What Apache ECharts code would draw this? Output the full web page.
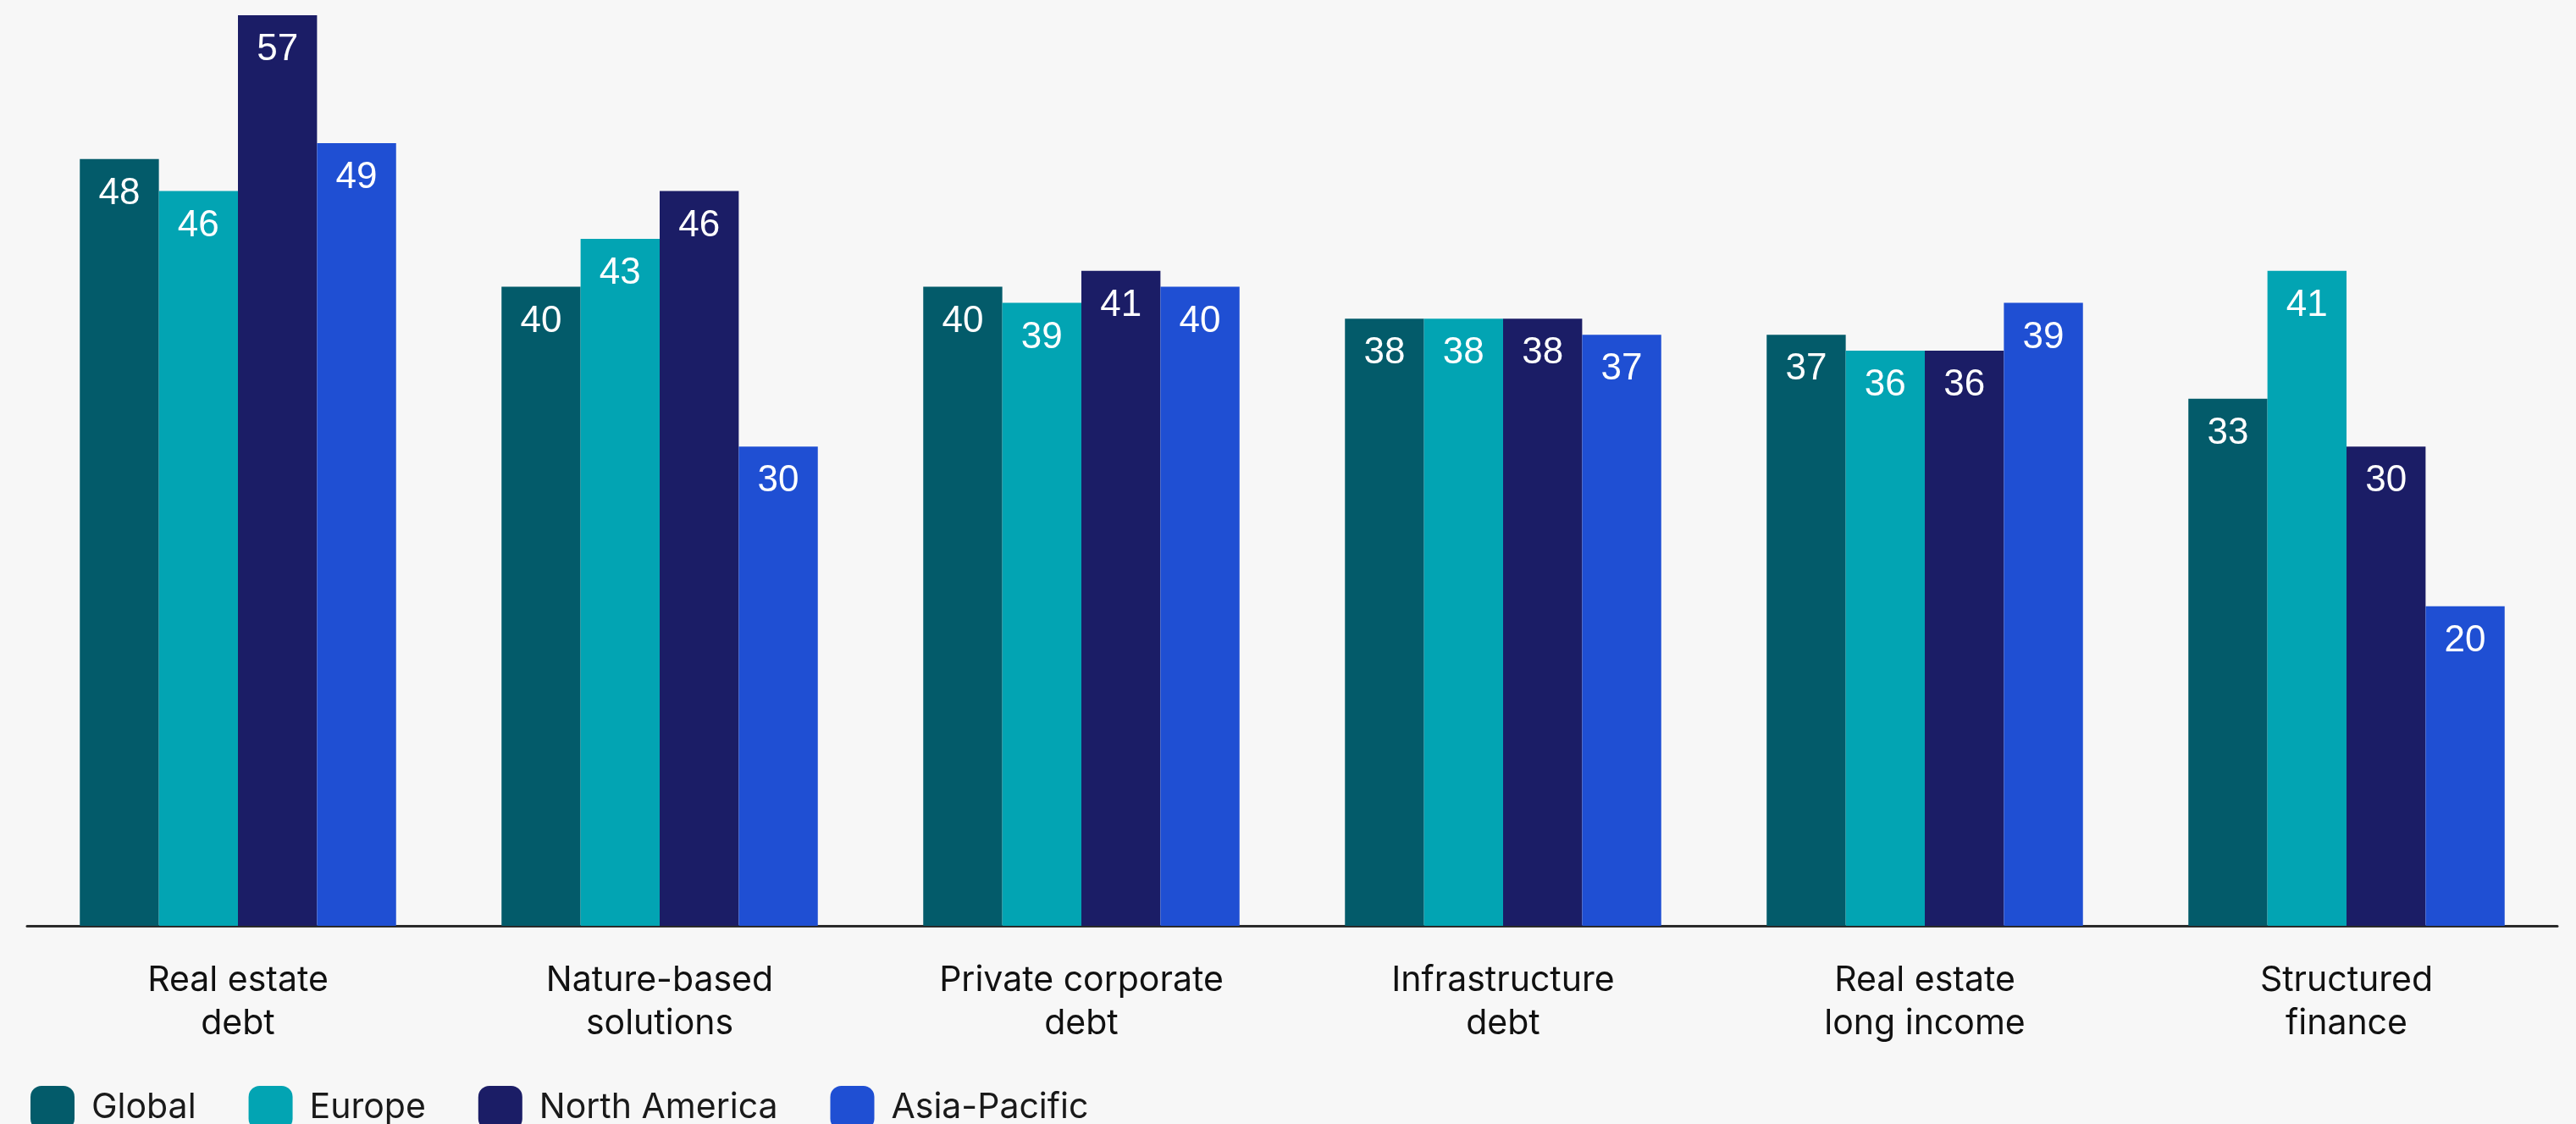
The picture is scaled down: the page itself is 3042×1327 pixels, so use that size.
<!DOCTYPE html>
<html>
<head>
<meta charset="utf-8">
<script src="https://cdn.jsdelivr.net/npm/echarts@6/dist/echarts.min.js"></script>
<style>
html,body{margin:0;padding:0;background:#f7f7f7;}
#chart{width:3042px;height:1327px;}
</style>
</head>
<body>
<div id="chart"></div>
<script>
const categories = ["Real estate\ndebt", "Nature-based\nsolutions", "Private corporate\ndebt", "Infrastructure\ndebt", "Real estate\nlong income", "Structured\nfinance"];
const seriesNames = ["Global", "Europe", "North America", "Asia-Pacific"];
const globalVals = [48, 40, 40, 38, 37, 33];
const europeVals = [46, 43, 39, 38, 36, 41];
const northAmericaVals = [57, 46, 41, 38, 36, 30];
const asiaPacificVals = [49, 30, 40, 37, 39, 20];
const colors = ["#035b6a", "#02a4b3", "#1b1d66", "#1f4fd3"];

const dataSets = [globalVals, europeVals, northAmericaVals, asiaPacificVals];
const chart = echarts.init(document.getElementById('chart'));
const catFont = "Inter, 'Noto Sans', sans-serif";
chart.setOption({
  backgroundColor: '#f7f7f7',
  animation: false,
  color: colors,
  grid: {left: 32, right: 22, top: 18, bottom: 234, containLabel: false},
  legend: {
    left: 31, top: 1277,
    itemWidth: 52, itemHeight: 52, itemGap: 62,
    icon: 'roundRect',
    data: seriesNames,
    textStyle: {fontSize: 41, color: '#1a1a1a', fontFamily: catFont, padding: [0, 0, 0, 15]}
  },
  xAxis: {
    type: 'category',
    data: categories,
    axisLine: {lineStyle: {color: '#2b2b2b', width: 3}},
    axisTick: {show: false},
    axisLabel: {fontSize: 41, lineHeight: 51, color: '#111', fontFamily: catFont, margin: 39, interval: 0}
  },
  yAxis: {
    type: 'value', min: 0, max: 57,
    show: false,
    splitLine: {show: false}
  },
  series: dataSets.map((d, i) => ({
    name: seriesNames[i],
    type: 'bar',
    data: d,
    barGap: '0%',
    barCategoryGap: '25%',
    itemStyle: {color: colors[i]},
    label: {
      show: true, position: 'insideTop', distance: 19,
      color: '#ffffff', fontSize: 44,
      fontFamily: "'Liberation Sans', Arial, sans-serif"
    }
  }))
});
</script>
</body>
</html>
